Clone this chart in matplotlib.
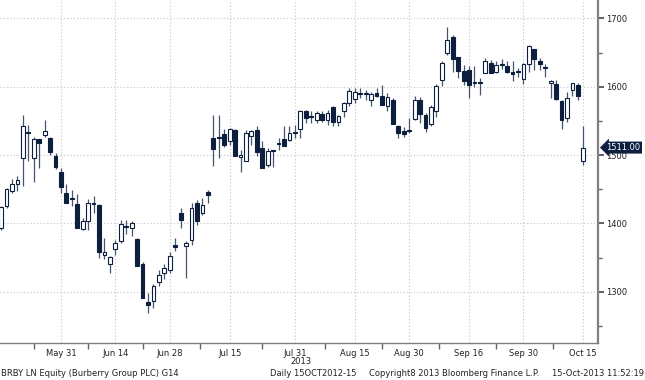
import numpy as np
import pandas as pd
import matplotlib
matplotlib.use('Agg')
import matplotlib.pyplot as plt
import matplotlib.transforms as mtrans

# trading days shown (UK holidays 27 May and 26 Aug skipped)
dates = pd.bdate_range('2013-05-15', '2013-10-15')
dates = dates.drop(pd.to_datetime(['2013-05-27', '2013-08-26']))

opens = [1393, 1425, 1448, 1458, 1496, 1534, 1496, 1523, 1530, 1525,
         1499, 1475, 1444, 1437, 1428, 1392, 1404, 1430, 1427, 1354,
         1340, 1363, 1374, 1396, 1393, 1377, 1340, 1285, 1287, 1315,
         1327, 1332, 1368, 1415, 1367, 1376, 1430, 1415, 1446, 1525,
         1526, 1531, 1521, 1537, 1497, 1492, 1528, 1537, 1510, 1486,
         1507, 1517, 1524, 1522, 1534, 1538, 1565, 1557, 1551, 1560,
         1551, 1571, 1549, 1564, 1576, 1582, 1590, 1589, 1580, 1591,
         1586, 1572, 1580, 1543, 1535, 1536, 1553, 1580, 1558, 1546,
         1564, 1610, 1649, 1673, 1643, 1623, 1625, 1607, 1607, 1620,
         1635, 1622, 1633, 1631, 1621, 1623, 1611, 1634, 1655, 1637,
         1629, 1606, 1604, 1579, 1554, 1596, 1603, 1491]
highs = [1426, 1452, 1465, 1469, 1559, 1544, 1526, 1524, 1551, 1526,
         1503, 1481, 1457, 1449, 1443, 1408, 1436, 1440, 1429, 1379,
         1353, 1376, 1405, 1405, 1403, 1378, 1344, 1298, 1312, 1332,
         1340, 1358, 1379, 1423, 1374, 1430, 1435, 1437, 1449, 1558,
         1559, 1538, 1540, 1538, 1508, 1537, 1537, 1542, 1520, 1510,
         1508, 1525, 1542, 1542, 1544, 1566, 1566, 1564, 1565, 1564,
         1566, 1572, 1559, 1578, 1598, 1598, 1598, 1596, 1593, 1598,
         1603, 1591, 1583, 1544, 1541, 1554, 1587, 1585, 1561, 1574,
         1604, 1637, 1688, 1676, 1644, 1632, 1630, 1630, 1613, 1642,
         1639, 1638, 1640, 1637, 1637, 1627, 1635, 1661, 1656, 1642,
         1634, 1610, 1610, 1580, 1593, 1606, 1605, 1543]
lows = [1391, 1423, 1445, 1447, 1455, 1491, 1460, 1481, 1527, 1500,
        1479, 1444, 1430, 1425, 1394, 1391, 1391, 1415, 1349, 1348,
        1327, 1354, 1371, 1384, 1381, 1337, 1291, 1269, 1276, 1309,
        1318, 1328, 1359, 1393, 1320, 1369, 1398, 1413, 1430, 1484,
        1496, 1512, 1515, 1499, 1475, 1491, 1515, 1498, 1481, 1483,
        1483, 1508, 1513, 1520, 1525, 1525, 1547, 1547, 1547, 1548,
        1544, 1542, 1543, 1556, 1572, 1576, 1583, 1581, 1572, 1585,
        1573, 1564, 1545, 1525, 1527, 1532, 1552, 1547, 1534, 1542,
        1556, 1601, 1646, 1622, 1613, 1603, 1583, 1600, 1588, 1620,
        1620, 1620, 1626, 1620, 1608, 1615, 1604, 1622, 1625, 1625,
        1615, 1583, 1581, 1538, 1549, 1586, 1580, 1486]
closes = [1424, 1450, 1457, 1464, 1542, 1533, 1523, 1518, 1535, 1505,
          1483, 1453, 1430, 1436, 1394, 1404, 1430, 1429, 1358, 1358,
          1351, 1371, 1399, 1395, 1401, 1337, 1291, 1280, 1309, 1324,
          1335, 1352, 1366, 1405, 1371, 1423, 1404, 1427, 1441, 1509,
          1525, 1515, 1538, 1499, 1500, 1533, 1535, 1505, 1481, 1506,
          1506, 1516, 1514, 1532, 1533, 1564, 1555, 1556, 1561, 1552,
          1562, 1548, 1557, 1576, 1594, 1593, 1589, 1591, 1590, 1586,
          1574, 1585, 1545, 1532, 1531, 1535, 1580, 1560, 1540, 1570,
          1601, 1635, 1669, 1640, 1623, 1609, 1602, 1606, 1606, 1638,
          1620, 1632, 1632, 1621, 1618, 1622, 1634, 1659, 1640, 1633,
          1628, 1608, 1582, 1551, 1584, 1605, 1586, 1511]

tick_dates = ['2013-05-31', '2013-06-14', '2013-06-28', '2013-07-15', '2013-07-31',
              '2013-08-15', '2013-08-30', '2013-09-16', '2013-09-30', '2013-10-15']
tick_labels = ['May 31', 'Jun 14', 'Jun 28', 'Jul 15', 'Jul 31',
               'Aug 15', 'Aug 30', 'Sep 16', 'Sep 30', 'Oct 15']
last_price = '1511.00'

navy = '#0c1f3f'
fs = 6

o = np.array(opens, float)
h = np.array(highs, float)
l = np.array(lows, float)
c = np.array(closes, float)
x = np.arange(len(dates))

fig = plt.figure(figsize=(6.45, 3.8), dpi=100)
ax = fig.add_axes([0, 37/380, 598/645, 343/380])

#wicks
ax.vlines(x, l, h, color='#46556b', lw=0.9, zorder=2)

#bodies
up = c >= o
bot = np.minimum(o, c)
hgt = np.maximum(np.abs(c - o), 1.5)
ax.bar(x[up], hgt[up], bottom=bot[up], width=0.7, color='white',
       edgecolor=navy, lw=0.8, zorder=3)
ax.bar(x[~up], hgt[~up], bottom=bot[~up], width=0.7, color=navy,
       edgecolor=navy, lw=0.8, zorder=3)

ax.set_xlim(-0.2, 109.7)
ax.set_ylim(1225, 1727)

pos = [dates.get_loc(pd.Timestamp(d)) for d in tick_dates]
ax.set_xticks(pos)
ax.set_xticklabels(tick_labels, fontsize=fs, color='#222222')
mids = [pos[0] - (pos[1] - pos[0]) / 2.0] + [(a + b) / 2.0 for a, b in zip(pos[:-1], pos[1:])]
ax.set_xticks(mids, minor=True)
ax.tick_params(axis='x', which='major', length=0, pad=4)
ax.tick_params(axis='x', which='minor', length=4, color='#666666', width=1)

ax.yaxis.tick_right()
ax.set_yticks([1300, 1400, 1500, 1600, 1700])
ax.set_yticks(np.arange(1250, 1727, 100), minor=True)
ax.tick_params(axis='y', which='major', length=4, width=1.2, color='#444444',
               labelsize=fs, labelcolor='#222222', pad=2)
ax.tick_params(axis='y', which='minor', length=3, width=1, color='#666666')

ax.grid(True, which='major', color='#c4c4c4', linestyle=(0, (1, 2)), lw=0.8)
ax.set_axisbelow(True)
for s in ['top', 'left']:
    ax.spines[s].set_visible(False)
ax.spines['right'].set_color('#808080')
ax.spines['right'].set_linewidth(1.6)
ax.spines['bottom'].set_color('#808080')
ax.spines['bottom'].set_linewidth(1)

# last price tag
tr = mtrans.blended_transform_factory(ax.transAxes, ax.transData)
ax.text(1.014, c[-1], last_price, transform=tr, ha='left', va='center',
        fontsize=fs, color='white', zorder=10,
        bbox=dict(boxstyle='larrow,pad=0.18', fc=navy, ec='none'), clip_on=False)

fig.text(301/645, 1 - 362/380, '2013', ha='center', va='center', fontsize=fs, color='#222222')
fig.text(0.002, 1 - 374/380, 'BRBY LN Equity (Burberry Group PLC) G14', ha='left', va='center',
         fontsize=fs, color='#222222')
fig.text(270/645, 1 - 374/380, 'Daily 15OCT2012-15', ha='left', va='center', fontsize=fs, color='#222222')
fig.text(369/645, 1 - 374/380, 'Copyright8 2013 Bloomberg Finance L.P.', ha='left', va='center',
         fontsize=fs, color='#222222')
fig.text(0.998, 1 - 374/380, '15-Oct-2013 11:52:19', ha='right', va='center', fontsize=fs, color='#222222')

fig.savefig('out.png', dpi=100)
